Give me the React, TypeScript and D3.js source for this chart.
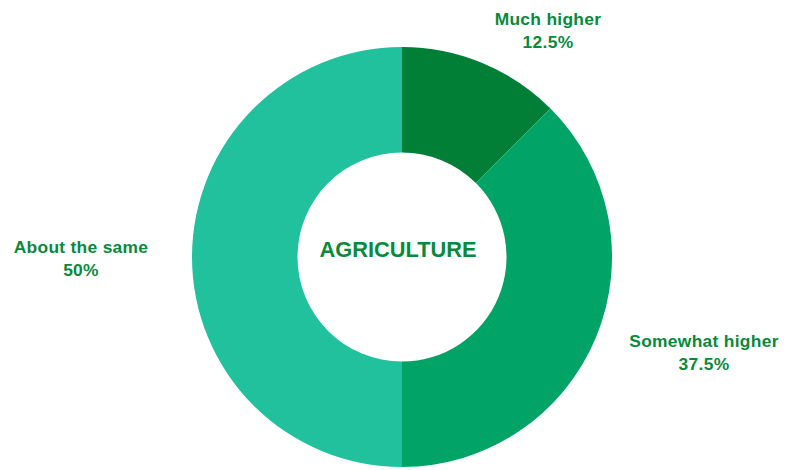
import React from "react";
import * as d3 from "d3";

const categories = ["Much higher", "Somewhat higher", "About the same"];
const values = [12.5, 37.5, 50];
const valueLabels = ["12.5%", "37.5%", "50%"];
const colors = ["#027F37", "#02A366", "#20C19C"];
const centerTitle = "AGRICULTURE";

const W = 793;
const H = 470;
const cx = 402;
const cy = 257;
const outerR = 210;
const innerR = 104.5;
const textColor = "#078A3B";

// label anchors (center x, first-line baseline y)
const labelPos: [number, number][] = [
  [548, 25],
  [704, 347],
  [81, 253],
];

export default function App() {
  const pie = d3
    .pie<number>()
    .sort(null)
    .value((d) => d);
  const arcs = pie(values);
  const arc = d3
    .arc<d3.PieArcDatum<number>>()
    .innerRadius(innerR)
    .outerRadius(outerR);

  return (
    <svg
      width={W}
      height={H}
      style={{ position: "absolute", left: 0, top: 0 }}
      fontFamily="'Liberation Sans', Arial, sans-serif"
    >
      <rect width={W} height={H} fill="#ffffff" />
      <g transform={`translate(${cx},${cy})`}>
        {arcs.map((a, i) => (
          <path key={i} d={arc(a) || ""} fill={colors[i]} />
        ))}
      </g>
      <text
        x={398}
        y={257}
        textAnchor="middle"
        fontSize={21.8}
        fontWeight="bold"
        fill={textColor}
      >
        {centerTitle}
      </text>
      {categories.map((c, i) => (
        <text
          key={c}
          x={labelPos[i][0]}
          y={labelPos[i][1]}
          textAnchor="middle"
          fontSize={17.4}
          fontWeight="bold"
          fill={textColor}
          letterSpacing={0.3}
        >
          <tspan x={labelPos[i][0]}>{c}</tspan>
          <tspan x={labelPos[i][0]} dy={22.5}>
            {valueLabels[i]}
          </tspan>
        </text>
      ))}
    </svg>
  );
}
